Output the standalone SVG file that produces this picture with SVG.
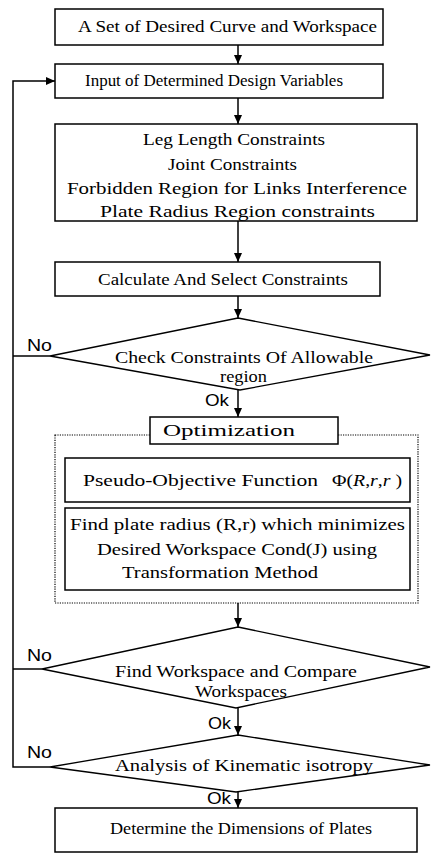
<svg xmlns="http://www.w3.org/2000/svg" width="432" height="858" viewBox="0 0 432 858">
<defs>
<marker id="ah" markerWidth="10" markerHeight="10" refX="9" refY="5" orient="auto" markerUnits="userSpaceOnUse">
<path d="M0,1 L9,5 L0,9 Z" fill="#000"/>
</marker>
<style>
.b{fill:#fff;stroke:#000;stroke-width:1.5}
.d{fill:#fff;stroke:#000;stroke-width:1.3}
.dot{fill:none;stroke:#000;stroke-width:1.2;stroke-dasharray:1.2 1.2}
.c{fill:none;stroke:#000;stroke-width:1.5}
.t{font-family:'Liberation Serif','DejaVu Serif',serif;font-size:16px;fill:#000}
.s{font-family:'Liberation Sans',Arial,sans-serif;font-size:16px;fill:#000}
</style>
</defs>
<rect width="432" height="858" fill="#fff"/>
<g id="connectors">
<line class="c" x1="238" y1="45" x2="238" y2="64" marker-end="url(#ah)"/>
<line class="c" x1="238" y1="98" x2="238" y2="124" marker-end="url(#ah)"/>
<line class="c" x1="238" y1="221" x2="238" y2="262" marker-end="url(#ah)"/>
<line class="c" x1="238" y1="296" x2="238" y2="318" marker-end="url(#ah)"/>
<line class="c" x1="238" y1="390" x2="238" y2="417" marker-end="url(#ah)"/>
<line class="c" x1="238" y1="603" x2="238" y2="627" marker-end="url(#ah)"/>
<line class="c" x1="238" y1="708" x2="238" y2="735" marker-end="url(#ah)"/>
<line class="c" x1="238" y1="792" x2="238" y2="808" marker-end="url(#ah)"/>
<polyline class="c" points="50,356 13,356"/>
<polyline class="c" points="42,669 13,669"/>
<polyline class="c" points="50,767 13,767 13,81 55,81" marker-end="url(#ah)"/>
<text class="s" x="27" y="351" textLength="25" lengthAdjust="spacingAndGlyphs">No</text>
<text class="s" x="27" y="661" textLength="25" lengthAdjust="spacingAndGlyphs">No</text>
<text class="s" x="27" y="758" textLength="25" lengthAdjust="spacingAndGlyphs">No</text>
<text class="s" x="205" y="406" textLength="24" lengthAdjust="spacingAndGlyphs">Ok</text>
<text class="s" x="208" y="729" textLength="23" lengthAdjust="spacingAndGlyphs">Ok</text>
<text class="s" x="207" y="804" textLength="24" lengthAdjust="spacingAndGlyphs">Ok</text>
</g>
<g id="n1">
<rect class="b" x="55" y="9" width="328" height="36"/>
<text class="t" x="78" y="32" textLength="299" lengthAdjust="spacingAndGlyphs">A Set of Desired Curve and Workspace</text>
</g>
<g id="n2">
<rect class="b" x="55" y="64" width="328" height="34"/>
<text class="t" x="85" y="86" textLength="258" lengthAdjust="spacingAndGlyphs">Input of  Determined Design Variables</text>
</g>
<g id="n3">
<rect class="b" x="55" y="124" width="362" height="97"/>
<text class="t" x="143" y="145" textLength="182" lengthAdjust="spacingAndGlyphs">Leg Length Constraints</text>
<text class="t" x="168" y="170" textLength="129" lengthAdjust="spacingAndGlyphs">Joint Constraints</text>
<text class="t" x="67" y="194" textLength="340" lengthAdjust="spacingAndGlyphs">Forbidden Region for  Links Interference</text>
<text class="t" x="100" y="217" textLength="275" lengthAdjust="spacingAndGlyphs">Plate Radius Region constraints</text>
</g>
<g id="n4">
<rect class="b" x="55" y="262" width="325" height="34"/>
<text class="t" x="98" y="285" textLength="250" lengthAdjust="spacingAndGlyphs">Calculate And Select Constraints</text>
</g>
<g id="n5">
<polygon class="d" points="238,318 430,355 240,390 50,356"/>
<text class="t" x="115" y="363" textLength="258" lengthAdjust="spacingAndGlyphs">Check Constraints Of  Allowable</text>
<text class="t" x="220" y="382" textLength="47" lengthAdjust="spacingAndGlyphs">region</text>
</g>
<g id="n6">
<rect class="dot" x="55" y="435" width="363" height="168"/>
<rect class="b" x="150" y="417" width="188" height="27"/>
<text class="t" x="163" y="436" textLength="132" lengthAdjust="spacingAndGlyphs">Optimization</text>
</g>
<g id="n7">
<rect class="b" x="65" y="458" width="345" height="44"/>
<text class="t" x="83" y="486" textLength="235" lengthAdjust="spacingAndGlyphs">Pseudo-Objective Function</text>
<text class="t" x="332" y="486" textLength="70" lengthAdjust="spacingAndGlyphs">Φ(<tspan font-style="italic">R</tspan>,<tspan font-style="italic">r</tspan>,<tspan font-style="italic">r</tspan> )</text>
</g>
<g id="n8">
<rect class="b" x="65" y="508" width="345" height="82"/>
<text class="t" x="70" y="530" textLength="335" lengthAdjust="spacingAndGlyphs">Find plate radius (R,r) which  minimizes</text>
<text class="t" x="97" y="555" textLength="280" lengthAdjust="spacingAndGlyphs">Desired Workspace Cond(J) using</text>
<text class="t" x="122" y="578" textLength="196" lengthAdjust="spacingAndGlyphs">Transformation Method</text>
</g>
<g id="n9">
<polygon class="d" points="238,627 430,667 236,708 42,669"/>
<text class="t" x="115" y="677" textLength="242" lengthAdjust="spacingAndGlyphs">Find Workspace and Compare</text>
<text class="t" x="195" y="697" textLength="92" lengthAdjust="spacingAndGlyphs">Workspaces</text>
</g>
<g id="n10">
<polygon class="d" points="238,735 430,765 236,792 50,767"/>
<text class="t" x="115" y="771" textLength="258" lengthAdjust="spacingAndGlyphs">Analysis of Kinematic isotropy</text>
</g>
<g id="n11">
<rect class="b" x="55" y="808" width="362" height="44"/>
<text class="t" x="110" y="834" textLength="262" lengthAdjust="spacingAndGlyphs">Determine the Dimensions of Plates</text>
</g>
</svg>
